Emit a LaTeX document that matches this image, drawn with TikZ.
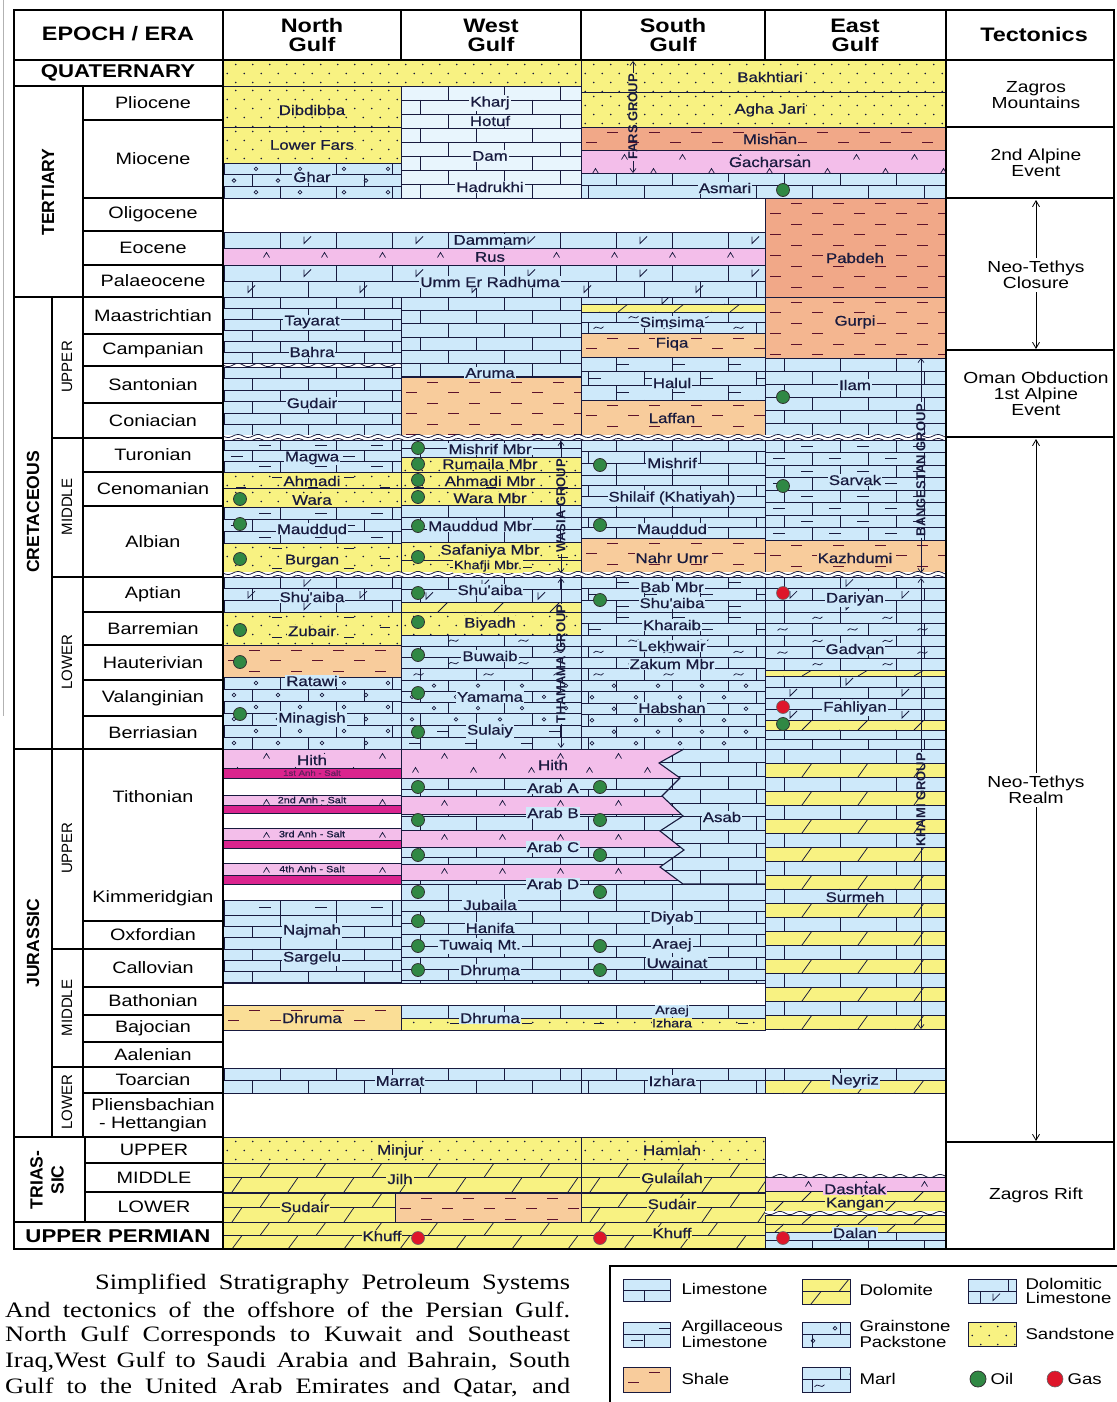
\documentclass[tikz,border=0pt]{standalone}
\usepackage{fontspec}
\setmainfont{Liberation Sans}[FakeStretch=1.2]
\newfontfamily\rotfont{Liberation Sans}
\newfontfamily\fmfont{Liberation Sans}[FakeStretch=1.2, FakeBold=0.7]
\newfontfamily\capfont{Liberation Serif}[FakeStretch=1.2]
\usetikzlibrary{positioning,arrows.meta}

\definecolor{lsblue}{RGB}{206,233,250}
\definecolor{lspale}{RGB}{232,245,253}
\definecolor{sandyel}{RGB}{248,242,130}
\definecolor{shaleor}{RGB}{248,204,156}
\definecolor{shaledk}{RGB}{241,168,136}
\definecolor{shalelt}{RGB}{250,222,150}
\definecolor{anhpink}{RGB}{243,190,234}
\definecolor{saltmag}{RGB}{218,36,142}
\definecolor{oilgreen}{RGB}{48,136,68}
\definecolor{gasred}{RGB}{222,22,42}
\definecolor{ink}{RGB}{24,26,62}

\tikzset{
  litho/.style={draw=ink, line width=0.75pt},
  cell/.style={draw=black, line width=1.1pt},
  frame/.style={draw=black, line width=1.8pt},
  fm/.style={font=\fmfont\fontsize{14}{15}\selectfont, text=ink, inner sep=1pt, fill=#1},
  fm/.default=lsblue,
  small/.style={font=\fmfont\fontsize{9}{9}\selectfont, text=ink, inner sep=0.5pt},
  head/.style={font=\bfseries\fontsize{19.5}{19}\selectfont, align=center},
  bighead/.style={font=\bfseries\fontsize{18.5}{19}\selectfont},
  age/.style={font=\fontsize{16.5}{18}\selectfont, align=center},
  era/.style={font=\rotfont\bfseries\fontsize{17.6}{21}\selectfont, rotate=90, align=center},
  sub/.style={font=\rotfont\fontsize{15}{16}\selectfont, rotate=90},
  tect/.style={font=\fontsize{16}{16}\selectfont, align=center},
  grp/.style={font=\rotfont\bfseries\fontsize{13}{13}\selectfont, text=ink, rotate=90, inner sep=1pt},
  grparrow/.style={draw=ink, line width=0.7pt, -{Straight Barb[length=4pt,width=6pt]}},
  tarrow/.style={draw=black, line width=0.8pt, -{Straight Barb[length=6pt,width=7pt]}},
  legtxt/.style={font=\fontsize{15.5}{15.5}\selectfont, anchor=west, align=left},
  capt/.style={font=\capfont\fontsize{22}{24}\selectfont, anchor=west, inner sep=0pt, text=black}
}

\newcommand{\limecol}{lsblue}
\newcommand{\shalecol}{shaleor}

% symbols on a staggered grid: x1 y1 x2 y2 dx dy {code}
\newcommand{\litmarks}[7]{%
  \begin{scope}
    \clip (#1,#2) rectangle (#3,#4);
    \pgfmathsetmacro\mya{#2+#6/2}\pgfmathsetmacro\myb{\mya+#6}
    \foreach \yy [count=\ii] in {\mya,\myb,...,#4} {
      \pgfmathsetmacro\mxa{#1+#5/4+mod(\ii,2)*#5/2}\pgfmathsetmacro\mxb{\mxa+#5}
      \foreach \xx in {\mxa,\mxb,...,#3} {\begin{scope}[shift={(\xx,\yy)}]#7\end{scope}}
    }
  \end{scope}}
\newcommand{\hlines}[5][12]{%
  \pgfmathsetmacro\hya{#3+#1}\pgfmathsetmacro\hyb{#3+2*#1}
  \foreach \yy in {\hya,\hyb,...,#5} \draw[litho] (#2,\yy) -- (#4,\yy);}
\newcommand{\bricks}[5][12]{%
  \begin{scope}
    \clip (#2,#3) rectangle (#4,#5);
    \hlines[#1]{#2}{#3}{#4}{#5}
    \pgfmathsetmacro\bxa{56*floor(#2/56)}\pgfmathsetmacro\bxb{\bxa+56}
    \foreach \xx in {\bxa,\bxb,...,#4} {
      \draw[litho, dash pattern=on #1pt off #1pt] (\xx,#3) -- (\xx,#5);
      \draw[litho, dash pattern=on #1pt off #1pt, dash phase=#1pt] (\xx+28,#3) -- (\xx+28,#5);
    }
  \end{scope}}

% lithologies: [row] x1 y1 x2 y2
\newcommand{\Lime}[5][12]{\fill[\limecol] (#2,#3) rectangle (#4,#5);
  \bricks[#1]{#2}{#3}{#4}{#5}\draw[litho] (#2,#3) rectangle (#4,#5);}
\newcommand{\Argil}[5][12]{\Lime[#1]{#2}{#3}{#4}{#5}
  \litmarks{#2}{#3}{#4}{#5}{56}{#1}{\draw[litho] (-6,0) -- (6,0);}}
\newcommand{\Dolime}[5][12]{\Lime[#1]{#2}{#3}{#4}{#5}
  \litmarks{#2}{#3}{#4}{#5}{112}{#1}{\draw[litho] (-3,-3.5) -- (-3,3.5) -- (4,-3.5);}}
\newcommand{\Grain}[5][12]{\Lime[#1]{#2}{#3}{#4}{#5}
  \litmarks{#2}{#3}{#4}{#5}{44}{#1}{\draw[litho] (0,0) circle (1.8);}}
\newcommand{\Marl}[5][12]{\Lime[#1]{#2}{#3}{#4}{#5}
  \litmarks{#2}{#3}{#4}{#5}{70}{#1}{\draw[litho] (-5,1) .. controls (-2,-4) and (2,4) .. (5,-1);}}
\newcommand{\Sand}[4]{\fill[sandyel] (#1,#2) rectangle (#3,#4);
  \litmarks{#1}{#2}{#3}{#4}{17}{9}{\fill[ink] (0,0) circle (0.9);}
  \draw[litho] (#1,#2) rectangle (#3,#4);}
\newcommand{\SandSh}[4]{\Sand{#1}{#2}{#3}{#4}
  \litmarks{#1}{#2}{#3}{#4}{72}{10}{\draw[litho] (-5,0) -- (5,0);}}
\newcommand{\Shale}[4]{\fill[\shalecol] (#1,#2) rectangle (#3,#4);
  \litmarks{#1}{#2}{#3}{#4}{42}{10.5}{\draw[ink!70!red, line width=0.9pt] (-5.5,0) -- (5.5,0);}
  \draw[litho] (#1,#2) rectangle (#3,#4);}
\newcommand{\Dolo}[5][13]{\fill[sandyel] (#2,#3) rectangle (#4,#5);
  \begin{scope}\clip (#2,#3) rectangle (#4,#5); \hlines[#1]{#2}{#3}{#4}{#5}\end{scope}
  \litmarks{#2}{#3}{#4}{#5}{56}{#1}{\draw[litho] (-5,#1/2) -- (5,-#1/2);}
  \draw[litho] (#2,#3) rectangle (#4,#5);}
\newcommand{\Anhy}[4]{\fill[anhpink] (#1,#2) rectangle (#3,#4);
  \litmarks{#1}{#2}{#3}{#4}{58}{14}{\draw[litho] (-3,2.5) -- (0,-2.5) -- (3,2.5);}
  \draw[litho] (#1,#2) rectangle (#3,#4);}
\newcommand{\Salt}[4]{\fill[saltmag] (#1,#2) rectangle (#3,#4); \draw[litho] (#1,#2) rectangle (#3,#4);}
\newcommand{\wavy}[3]{\fill[white] (#1,#3-3.5) rectangle (#2,#3+3.5);
  \draw[litho] plot[domain=0:#2-#1, samples=240, smooth] ({#1+\x},{#3-2+1.6*sin(18*\x)});
  \draw[litho] plot[domain=0:#2-#1, samples=240, smooth] ({#1+\x},{#3+2+1.6*sin(18*\x)});}
\newcommand{\wave}[3]{\draw[litho] plot[domain=0:#2-#1, samples=120, smooth] ({#1+\x},{#3+1.6*sin(18*\x)});}
\newcommand{\oil}[2]{\filldraw[fill=oilgreen, draw=black!80, line width=0.8pt] (#1,#2) circle (6.5);}
\newcommand{\gas}[2]{\filldraw[fill=gasred, draw=black!60, line width=0.6pt] (#1,#2) circle (6.5);}

\begin{document}
\begin{tikzpicture}[x=1pt,y=-1pt]
\useasboundingbox (0,0) rectangle (1116,1402);
\fill[white] (0,0) rectangle (1116,1402);
\draw[gray!60, line width=1pt] (3,0) -- (3,716);

% Quaternary and Tertiary
\Sand{223}{60}{581}{86}
\Sand{581}{60}{945}{92}
\Sand{581}{92}{945}{127}
{\renewcommand{\shalecol}{shaledk}\Shale{581}{127}{945}{150}}
\Anhy{581}{150}{945}{173}
\Lime[12.5]{581}{173}{945}{198}
\Sand{223}{86}{401}{127}
\Sand{223}{127}{401}{163}
\Grain[11.7]{223}{163}{401}{198}
{\renewcommand{\limecol}{lspale}\Lime[14]{401}{86}{581}{198}}
\Dolime[16]{223}{232}{765}{248}
\Anhy{223}{248}{765}{265}
\Dolime[16]{223}{265}{765}{297}
{\renewcommand{\shalecol}{shaledk}\Shale{765}{198}{945}{297}}
{\renewcommand{\shalecol}{shaledk!60!shaleor}\Shale{765}{297}{945}{358}}

% Upper Cretaceous
\Lime[13]{765}{358}{945}{436}
\Lime[11]{223}{297}{401}{363}
\Lime[11.5]{223}{367}{401}{436}
\wave{223}{401}{365}
\Lime[13.3]{401}{297}{581}{377}
\Shale{401}{377}{581}{436}
\Dolime[7]{581}{297}{765}{304}
\Dolo[8]{581}{304}{765}{312}
\Marl[10.5]{581}{312}{765}{333}
\Shale{581}{333}{765}{357}
\Argil[14.3]{581}{357}{765}{400}
\Shale{581}{400}{765}{436}
\wavy{223}{945}{438}

% Middle Cretaceous
\Argil[10.7]{223}{440}{401}{472}
\SandSh{223}{472}{401}{488}
\Sand{223}{488}{401}{507}
\Argil[12]{223}{507}{401}{543}
\SandSh{223}{543}{401}{573}
\Lime[8.5]{401}{440}{581}{457}
\SandSh{401}{457}{581}{472}
\SandSh{401}{472}{581}{488}
\Sand{401}{488}{581}{505}
\Lime[12.3]{401}{505}{581}{542}
\SandSh{401}{542}{581}{573}
\draw[litho] (401,560) -- (581,560);
\Lime[11.7]{581}{440}{765}{475}
\Lime[10.7]{581}{475}{765}{507}
\Lime[10.3]{581}{507}{765}{538}
\Shale{581}{538}{765}{573}
\Argil[12.5]{765}{440}{945}{540}
\Shale{765}{540}{945}{573}
\wavy{223}{945}{575}

% Lower Cretaceous
\Dolime[11.7]{223}{577}{401}{612}
\SandSh{223}{612}{401}{645}
\Shale{223}{645}{401}{677}
\Grain[12]{223}{677}{401}{749}
\Dolime[12.5]{401}{577}{581}{602}
\Dolo[10]{401}{602}{581}{612}
\Sand{401}{612}{581}{635}
\Marl[11.25]{401}{635}{581}{680}
\Grain[11.25]{401}{680}{581}{725}
\Argil[12]{401}{725}{581}{749}
\Argil[11.7]{581}{577}{765}{612}
\Argil[11.5]{581}{612}{765}{635}
\Marl[11.25]{581}{635}{765}{680}
\Grain[11.5]{581}{680}{765}{749}
\Dolime[11.7]{765}{577}{945}{612}
\Marl[11.6]{765}{612}{945}{670}
\Dolo[6]{765}{670}{945}{676}
\Dolime[11]{765}{676}{945}{720}
\Dolo[10]{765}{720}{945}{730}
\Lime[9.5]{765}{730}{945}{749}

% Upper Jurassic, North Gulf
\Anhy{223}{749}{401}{768} \Salt{223}{768}{401}{778}
\Anhy{223}{795}{401}{805} \Salt{223}{805}{401}{813}
\Anhy{223}{828}{401}{840} \Salt{223}{840}{401}{848}
\Anhy{223}{863}{401}{875} \Salt{223}{875}{401}{884}
\Argil[15]{223}{900}{401}{915}
\Lime[11.3]{223}{915}{401}{983}
{\renewcommand{\shalecol}{shalelt}\Shale{223}{1005}{401}{1030}}

% Upper Jurassic, West and South Gulf
\Lime[13.5]{401}{749}{765}{884}
\Lime[16]{401}{884}{765}{900}
\begin{scope}
  \clip (401,749) -- (684,749) -- (659,763) -- (680,778) -- (662,796) -- (683,816) -- (660,831)
    -- (684,850) -- (660,867) -- (683,884) -- (401,884) -- cycle;
  \Anhy{401}{749}{700}{778}
  \Anhy{401}{796}{700}{814}
  \Anhy{401}{830}{700}{847}
  \Anhy{401}{864}{700}{880}
\end{scope}
\draw[litho, line width=1.1pt] (684,749) -- (659,763) -- (680,778) -- (662,796) -- (683,816) -- (660,831)
  -- (684,850) -- (660,867) -- (683,884) -- (765,884);
\Lime[11.5]{401}{900}{765}{983}
\Lime[13]{401}{1005}{765}{1018}
\SandSh{401}{1018}{765}{1030}

% East Gulf Surmeh
\foreach \k in {0,...,9} {
  \pgfmathsetmacro\sa{749+28*\k}\pgfmathsetmacro\sb{\sa+14}\pgfmathsetmacro\sc{\sa+28}
  \Lime[14]{765}{\sa}{945}{\sb}
  \Dolo[14]{765}{\sb}{945}{\sc}
}

% Lower Jurassic, Triassic, Permian
\Lime[12.5]{223}{1068}{581}{1093}
\Lime[12.5]{581}{1068}{765}{1093}
\Lime[12]{765}{1068}{945}{1080}
\Dolo[13]{765}{1080}{945}{1093}
\Sand{223}{1137}{581}{1163}
\Sand{581}{1137}{765}{1163}
\Dolo[14.5]{223}{1163}{581}{1193}
\Dolo[14.5]{581}{1163}{765}{1193}
\Dolo[14.5]{223}{1193}{395}{1222}
\Shale{395}{1193}{581}{1222}
\Dolo[14.5]{581}{1193}{765}{1222}
\Dolo[13.5]{223}{1222}{765}{1249}
\Anhy{765}{1177}{945}{1191}
\Dolo[10]{765}{1191}{945}{1211}
\Dolo[9]{765}{1215}{945}{1232}
\Lime[8.5]{765}{1232}{945}{1249}
\wave{765}{945}{1176}
\fill[white] (765,1211) rectangle (945,1215);
\wave{765}{945}{1213}

% formation names
\node[fm=sandyel] (dibdibba) at (312,110) {Dibdibba};
\node[fm=sandyel] (lowerfars) at (312,145) {Lower Fars};
\node[fm] (ghar) at (312,177) {Ghar};
\node[fm=lspale] (kharj) at (490,103) {Kharj};
\node[fm=lspale] (hotuf) at (490,121) {Hotuf};
\node[fm=lspale] (dam) at (490,156) {Dam};
\node[fm=lspale] (hadrukhi) at (490,187) {Hadrukhi};
\node[fm=sandyel] (bakhtiari) at (770,77) {Bakhtiari};
\node[fm=sandyel] (aghajari) at (770,110) {Agha Jari};
\node[fm=shaledk] (mishan) at (770,139) {Mishan};
\node[fm=anhpink] (gachsaran) at (770,162) {Gacharsan};
\node[fm] (asmari) at (725,188) {Asmari};
\node[fm] (dammam) at (490,240) {Dammam};
\node[fm=anhpink] (rus) at (490,257) {Rus};
\node[fm] (ummer) at (490,282) {Umm Er Radhuma};
\node[fm=shaledk] (pabdeh) at (855,258) {Pabdeh};
\node[fm=shaledk!60!shaleor] (gurpi) at (855,322) {Gurpi};
\node[fm] (ilam) at (855,385) {Ilam};
\node[fm] (tayarat) at (312,322) {Tayarat};
\node[fm] (bahra) at (312,352) {Bahra};
\node[fm] (gudair) at (312,403) {Gudair};
\node[fm] (aruma) at (490,373) {Aruma};
\node[fm] (simsima) at (672,322) {Simsima};
\node[fm=shaleor] (fiqa) at (672,344) {Fiqa};
\node[fm] (halul) at (672,383) {Halul};
\node[fm=shaleor] (laffan) at (672,418) {Laffan};
\node[fm] (magwa) at (312,458) {Magwa};
\node[fm=sandyel] (ahmadi) at (312,481) {Ahmadi};
\node[fm=sandyel] (wara) at (312,500) {Wara};
\node[fm] (mauddud-n) at (312,529) {Mauddud};
\node[fm=sandyel] (burgan) at (312,561) {Burgan};
\node[fm] (mishrifmbr) at (490,449) {Mishrif Mbr};
\node[fm=sandyel] (rumaila) at (490,464) {Rumaila Mbr};
\node[fm=sandyel] (ahmadimbr) at (490,481) {Ahmadi Mbr};
\node[fm=sandyel] (waranbr) at (490,498) {Wara Mbr};
\node[fm] (mauddudmbr) at (480,526) {Mauddud Mbr};
\node[fm=sandyel] (safaniya) at (490,551) {Safaniya Mbr};
\node[fm=sandyel, font=\fmfont\fontsize{12}{12}\selectfont] (khafji) at (488,566) {Khafji Mbr.};
\node[fm] (mishrif-s) at (672,463) {Mishrif};
\node[fm] (shilaif) at (672,498) {Shilaif (Khatiyah)};
\node[fm] (mauddud-s) at (672,529) {Mauddud};
\node[fm=shaleor] (nahrumr) at (672,558) {Nahr Umr};
\node[fm] (sarvak) at (855,480) {Sarvak};
\node[fm=shaleor] (kazhdumi) at (855,558) {Kazhdumi};
\node[fm] (shuaiba-n) at (312,597) {Shu'aiba};
\node[fm=sandyel] (zubair) at (312,631) {Zubair};
\node[fm] (ratawi) at (312,681) {Ratawi};
\node[fm] (minagish) at (312,719) {Minagish};
\node[fm] (shuaiba-w) at (490,590) {Shu'aiba};
\node[fm=sandyel] (biyadh) at (490,624) {Biyadh};
\node[fm] (buwaib) at (490,656) {Buwaib};
\node[fm] (yamama) at (490,697) {Yamama};
\node[fm] (sulaiy) at (490,731) {Sulaiy};
\node[fm] (babmbr) at (672,587) {Bab Mbr};
\node[fm] (shuaiba-s) at (672,603) {Shu'aiba};
\node[fm] (kharaib) at (672,625) {Kharaib};
\node[fm] (lekhwair) at (672,646) {Lekhwair};
\node[fm] (zakum) at (672,664) {Zakum Mbr};
\node[fm] (habshan) at (672,708) {Habshan};
\node[fm] (dariyan) at (855,599) {Dariyan};
\node[fm] (gadvan) at (855,649) {Gadvan};
\node[fm] (fahliyan) at (855,708) {Fahliyan};
\node[fm=anhpink] (hith-n) at (312,760) {Hith};
\node[small, font=\fmfont\fontsize{8}{8}\selectfont, text=ink!60!saltmag] (anh1) at (312,773) {1st Anh - Salt};
\node[small, fill=anhpink] (anh2) at (312,800) {2nd Anh - Salt};
\node[small, fill=anhpink] (anh3) at (312,834) {3rd Anh - Salt};
\node[small, fill=anhpink] (anh4) at (312,869) {4th Anh - Salt};
\node[fm=anhpink] (hith-w) at (553,765) {Hith};
\node[fm] (araba) at (553,788) {Arab A};
\node[fm] (arabb) at (553,813) {Arab B};
\node[fm] (arabc) at (553,847) {Arab C};
\node[fm] (arabd) at (553,884) {Arab D};
\node[fm] (asab) at (722,817) {Asab};
\node[fm] (najmah) at (312,931) {Najmah};
\node[fm] (sargelu) at (312,958) {Sargelu};
\node[fm] (jubaila) at (490,905) {Jubaila};
\node[fm] (hanifa) at (490,928) {Hanifa};
\node[fm] (tuwaiq) at (480,946) {Tuwaiq Mt.};
\node[fm] (dhruma-w) at (490,970) {Dhruma};
\node[fm] (diyab) at (672,918) {Diyab};
\node[fm] (araej) at (672,945) {Araej};
\node[fm] (uwainat) at (677,963) {Uwainat};
\node[fm] (surmeh) at (855,897) {Surmeh};
\node[fm=shalelt] (dhruma-n) at (312,1018) {Dhruma};
\node[fm] (dhruma-w2) at (490,1018) {Dhruma};
\node[fm, font=\fmfont\fontsize{12}{12}\selectfont, inner sep=0.3pt] (araej2) at (672,1011) {Araej};
\node[fm=sandyel, font=\fmfont\fontsize{12}{12}\selectfont, inner sep=0.3pt] (izhara2) at (672,1023) {Izhara};
\node[fm] (marrat) at (400,1081) {Marrat};
\node[fm] (izhara) at (672,1081) {Izhara};
\node[fm] (neyriz) at (855,1081) {Neyriz};
\node[fm=sandyel] (minjur) at (400,1151) {Minjur};
\node[fm=sandyel] (hamlah) at (672,1150) {Hamlah};
\node[fm=sandyel] (jilh) at (400,1179) {Jilh};
\node[fm=sandyel] (gulailah) at (672,1178) {Gulailah};
\node[fm=sandyel] (sudair-n) at (305,1207) {Sudair};
\node[fm=sandyel] (sudair-s) at (672,1204) {Sudair};
\node[fm=sandyel] (khuff-n) at (382,1236) {Khuff};
\node[fm=sandyel] (khuff-s) at (672,1233) {Khuff};
\node[fm=anhpink] (dashtak) at (855,1189) {Dashtak};
\node[fm=sandyel] (kangan) at (855,1204) {Kangan};
\node[fm] (dalan) at (855,1233) {Dalan};

% oil and gas shows
\oil{783}{190} \oil{783}{397}
\oil{240}{499} \oil{240}{524} \oil{240}{559}
\oil{418}{448} \oil{418}{464} \oil{418}{480} \oil{418}{497} \oil{418}{526} \oil{418}{557}
\oil{600}{465} \oil{600}{525} \oil{783}{486}
\oil{240}{630} \oil{240}{662} \oil{240}{714}
\oil{418}{593} \oil{418}{622} \oil{418}{655} \oil{418}{693} \oil{418}{732}
\oil{600}{600} \gas{783}{593} \gas{783}{707} \oil{783}{724}
\oil{418}{787} \oil{600}{787} \oil{418}{820} \oil{600}{820}
\oil{418}{855} \oil{600}{855} \oil{418}{892} \oil{600}{892}
\oil{418}{921} \oil{418}{946} \oil{418}{970} \oil{600}{946} \oil{600}{970}
\gas{418}{1238} \gas{600}{1238} \gas{783}{1238}

% groups
\node[grp] (fars) at (633,117) {FARS GROUP};
\coordinate (fars-t) at (633,61);
\coordinate (fars-b) at (633,173);
\draw[grparrow] (fars) -- (fars-t);
\draw[grparrow] (fars) -- (fars-b);
\node[grp] (wasia) at (561,506) {WASIA GROUP};
\coordinate (wasia-t) at (561,441);
\coordinate (wasia-b) at (561,573);
\draw[grparrow] (wasia) -- (wasia-t);
\draw[grparrow] (wasia) -- (wasia-b);
\node[grp] (thamama) at (561,664) {THAMAMA GROUP};
\coordinate (thamama-t) at (561,578);
\coordinate (thamama-b) at (561,748);
\draw[grparrow] (thamama) -- (thamama-t);
\draw[grparrow] (thamama) -- (thamama-b);
\node[grp] (bangestan) at (921,470) {BANGESTAN GROUP};
\coordinate (bangestan-t) at (921,358);
\coordinate (bangestan-b) at (921,573);
\draw[grparrow] (bangestan) -- (bangestan-t);
\draw[grparrow] (bangestan) -- (bangestan-b);
\node[grp] (khami) at (921,800) {KHAMI GROUP};
\coordinate (khami-t) at (921,578);
\coordinate (khami-b) at (921,1029);
\draw[grparrow] (khami) -- (khami-t);
\draw[grparrow] (khami) -- (khami-b);

% epoch and era column
\draw[cell] (14,60) rectangle (223,86);
\node[bighead] (quat) at (118,73) {QUATERNARY};
\draw[cell] (14,86) rectangle (83,297);
\node[era] (tert) at (48,192) {TERTIARY};
\draw[cell] (14,297) rectangle (52,749);
\node[era] (cret) at (33,512) {CRETACEOUS};
\draw[cell] (52,297) rectangle (83,438);
\node[sub] (cret-u) at (67,367) {UPPER};
\draw[cell] (52,438) rectangle (83,577);
\node[sub] (cret-m) at (67,507) {MIDDLE};
\draw[cell] (52,577) rectangle (83,749);
\node[sub] (cret-l) at (67,662) {LOWER};
\draw[cell] (14,749) rectangle (52,1137);
\node[era] (jur) at (33,943) {JURASSIC};
\draw[cell] (52,749) rectangle (83,949);
\node[sub] (jur-u) at (67,848) {UPPER};
\draw[cell] (52,949) rectangle (83,1067);
\node[sub] (jur-m) at (67,1008) {MIDDLE};
\draw[cell] (52,1067) rectangle (83,1137);
\node[sub] (jur-l) at (67,1102) {LOWER};
\foreach \ya/\yb/\nm in {86/120/Pliocene, 120/198/Miocene, 198/231/Oligocene, 231/265/Eocene,
    265/297/Palaeocene, 297/334/Maastrichtian, 334/366/Campanian, 366/403/Santonian,
    403/438/Coniacian, 438/472/Turonian, 472/506/Cenomanian, 506/577/Albian, 577/612/Aptian,
    612/645/Barremian, 645/680/Hauterivian, 680/716/Valanginian, 716/749/Berriasian,
    921/949/Oxfordian, 949/987/Callovian, 987/1015/Bathonian, 1015/1042/Bajocian,
    1042/1067/Aalenian, 1067/1093/Toarcian} {
  \draw[cell] (83,\ya) rectangle (223,\yb);
  \node[age] (age-\ya) at (153,{(\ya+\yb)/2}) {\nm};
}
\draw[cell] (83,749) rectangle (223,921);
\node[age] (tithonian) at (153,797) {Tithonian};
\node[age] (kimmeridgian) at (153,898) {Kimmeridgian};
\draw[cell] (83,1093) rectangle (223,1137);
\node[age, font=\fontsize{16.5}{17.5}\selectfont] (pliens) at (153,1115) {Pliensbachian\\- Hettangian};
\draw[cell] (14,1137) rectangle (85,1222);
\node[era] (trias) at (47,1180) {TRIAS-\\SIC};
\foreach \ya/\yb/\nm in {1137/1163/UPPER, 1163/1192/MIDDLE, 1192/1222/LOWER} {
  \draw[cell] (85,\ya) rectangle (223,\yb);
  \node[age] (tri-\ya) at (154,{(\ya+\yb)/2}) {\nm};
}
\draw[cell] (14,1222) rectangle (223,1249);
\node[bighead] (perm) at (118,1236) {UPPER PERMIAN};

% header and frame
\draw[frame] (14,10) rectangle (1114,1249);
\draw[frame] (14,60) -- (1114,60);
\draw[frame] (223,10) -- (223,1249);
\draw[frame] (946,10) -- (946,1249);
\foreach \xx in {401,581,765} \draw[cell] (\xx,10) -- (\xx,60);
\node[head] (h-epoch) at (118,34) {EPOCH / ERA};
\node[head] (h-north) at (312,35) {North\\Gulf};
\node[head] (h-west) at (491,35) {West\\Gulf};
\node[head] (h-south) at (673,35) {South\\Gulf};
\node[head] (h-east) at (855,35) {East\\Gulf};
\node[head] (h-tect) at (1034,35) {Tectonics};

% tectonics
\foreach \yy in {127,198,350,437,1142} \draw[cell] (946,\yy) -- (1114,\yy);
\node[tect] (zagros) at (1036,95) {Zagros\\Mountains};
\node[tect] (alpine2) at (1036,163) {2nd Alpine\\Event};
\node[tect] (closure) at (1036,275) {Neo-Tethys\\Closure};
\coordinate (closure-t) at (1036,200);
\coordinate (closure-b) at (1036,349);
\draw[tarrow] (closure) -- (closure-t);
\draw[tarrow] (closure) -- (closure-b);
\node[tect] (oman) at (1036,394) {Oman Obduction\\1st Alpine\\Event};
\node[tect] (realm) at (1036,790) {Neo-Tethys\\Realm};
\coordinate (realm-t) at (1036,439);
\coordinate (realm-b) at (1036,1141);
\draw[tarrow] (realm) -- (realm-t);
\draw[tarrow] (realm) -- (realm-b);
\node[tect] (rift) at (1036,1195) {Zagros Rift};

% caption
\node[capt] (cap1) at (95,1284) {\makebox[475pt][s]{Simplified Stratigraphy Petroleum Systems}};
\node[capt] (cap2) at (5,1310) {\makebox[565pt][s]{And tectonics of the offshore of the Persian Gulf.}};
\node[capt] (cap3) at (5,1336) {\makebox[565pt][s]{North Gulf Corresponds to Kuwait and Southeast}};
\node[capt] (cap4) at (5,1362) {\makebox[565pt][s]{Iraq,West Gulf to Saudi Arabia and Bahrain, South}};
\node[capt] (cap5) at (5,1388) {\makebox[565pt][s]{Gulf to the United Arab Emirates and Qatar, and}};

% legend
\draw[black, line width=1.2pt] (610,1266) rectangle (1130,1420);
\Lime[11]{623}{1279}{670}{1301}
\Dolo[12.5]{802}{1279}{850}{1304}
\Dolime[12]{968}{1279}{1016}{1303}
\Argil[12.5]{623}{1322}{670}{1347}
\Grain[12.5]{802}{1322}{850}{1347}
\Sand{968}{1322}{1016}{1346}
\Shale{623}{1367}{670}{1392}
\Marl[12.5]{802}{1367}{850}{1392}
\filldraw[fill=oilgreen, draw=black!80, line width=0.8pt] (978,1379) circle (8);
\filldraw[fill=gasred, draw=black!60, line width=0.6pt] (1055,1379) circle (8);
\node[legtxt] (lg-lime) at (678,1289) {Limestone};
\node[legtxt] (lg-dolo) at (856,1290) {Dolomite};
\node[legtxt, font=\fontsize{15.5}{14.5}\selectfont] (lg-dolime) at (1022,1291) {Dolomitic\\Limestone};
\node[legtxt] (lg-argil) at (678,1334) {Argillaceous\\Limestone};
\node[legtxt] (lg-grain) at (856,1334) {Grainstone\\Packstone};
\node[legtxt] (lg-sand) at (1022,1334) {Sandstone};
\node[legtxt] (lg-shale) at (678,1379) {Shale};
\node[legtxt] (lg-marl) at (856,1379) {Marl};
\node[legtxt] (lg-oil) at (987,1379) {Oil};
\node[legtxt] (lg-gas) at (1064,1379) {Gas};
\end{tikzpicture}
\end{document}
